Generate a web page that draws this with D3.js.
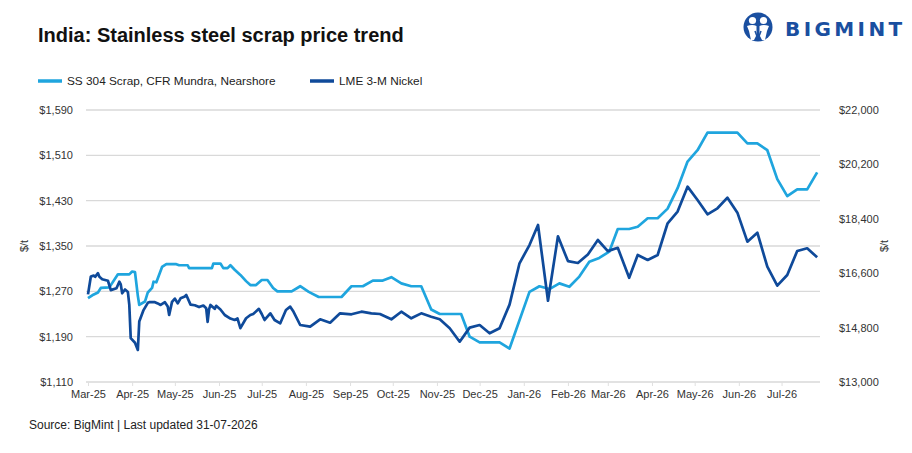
<!DOCTYPE html>
<html><head><meta charset="utf-8">
<script src="https://cdn.jsdelivr.net/npm/d3@7"></script>
<style>
body{margin:0;background:#fff;}
svg{display:block;font-family:"Liberation Sans",Arial,sans-serif;}
</style></head>
<body><svg id="c" width="912" height="453"></svg>
<script>
// ---- DATA ----
const ssDates = ["2025-03-01","2025-03-04","2025-03-08","2025-03-10","2025-03-16","2025-03-22","2025-03-30","2025-04-01","2025-04-03","2025-04-05","2025-04-06","2025-04-10","2025-04-12","2025-04-15","2025-04-16","2025-04-18","2025-04-22","2025-04-25","2025-05-02","2025-05-04","2025-05-10","2025-05-11","2025-05-27","2025-05-28","2025-06-02","2025-06-04","2025-06-07","2025-06-09","2025-06-12","2025-06-16","2025-06-20","2025-06-23","2025-06-27","2025-07-01","2025-07-05","2025-07-09","2025-07-12","2025-07-22","2025-07-28","2025-08-03","2025-08-10","2025-08-26","2025-09-02","2025-09-10","2025-09-17","2025-09-24","2025-09-30","2025-10-07","2025-10-14","2025-10-21","2025-10-28","2025-11-03","2025-11-18","2025-11-24","2025-12-01","2025-12-15","2025-12-22","2026-01-05","2026-01-12","2026-01-19","2026-01-26","2026-02-02","2026-02-09","2026-02-16","2026-02-23","2026-03-02","2026-03-08","2026-03-16","2026-03-22","2026-03-29","2026-04-05","2026-04-12","2026-04-19","2026-04-26","2026-05-03","2026-05-10","2026-05-31","2026-06-07","2026-06-14","2026-06-21","2026-06-28","2026-07-05","2026-07-12","2026-07-19","2026-07-26"];
const ssValues = [1258,1263,1268,1276,1277,1300,1300,1305,1304,1262,1246,1252,1268,1276,1287,1286,1313,1318,1318,1316,1316,1311,1311,1319,1319,1311,1311,1316,1308,1299,1288,1281,1281,1290,1290,1276,1270,1270,1279,1269,1260,1260,1279,1279,1289,1289,1295,1284,1279,1279,1238,1230,1230,1190,1180,1180,1169,1269,1279,1274,1284,1278,1296,1322,1329,1340,1380,1380,1384,1399,1399,1416,1452,1499,1519,1550,1550,1531,1531,1519,1468,1438,1450,1450,1480];

const niDates = ["2025-03-01","2025-03-03","2025-03-05","2025-03-06","2025-03-08","2025-03-09","2025-03-11","2025-03-15","2025-03-17","2025-03-21","2025-03-23","2025-03-24","2025-03-25","2025-03-27","2025-03-29","2025-03-30","2025-03-31","2025-04-03","2025-04-05","2025-04-06","2025-04-09","2025-04-12","2025-04-13","2025-04-17","2025-04-19","2025-04-21","2025-04-24","2025-04-26","2025-04-27","2025-04-29","2025-05-01","2025-05-03","2025-05-05","2025-05-08","2025-05-09","2025-05-12","2025-05-15","2025-05-18","2025-05-21","2025-05-23","2025-05-24","2025-05-25","2025-05-26","2025-05-29","2025-05-30","2025-06-02","2025-06-05","2025-06-09","2025-06-12","2025-06-14","2025-06-16","2025-06-20","2025-06-23","2025-06-25","2025-06-29","2025-07-01","2025-07-03","2025-07-07","2025-07-10","2025-07-14","2025-07-18","2025-07-21","2025-07-23","2025-07-28","2025-08-04","2025-08-11","2025-08-18","2025-08-25","2025-09-02","2025-09-09","2025-09-16","2025-09-22","2025-09-30","2025-10-07","2025-10-14","2025-10-21","2025-10-28","2025-11-03","2025-11-10","2025-11-17","2025-11-24","2025-12-01","2025-12-08","2025-12-15","2025-12-22","2025-12-29","2026-01-05","2026-01-11","2026-01-18","2026-01-25","2026-02-01","2026-02-08","2026-02-15","2026-02-22","2026-03-01","2026-03-08","2026-03-16","2026-03-22","2026-03-29","2026-04-05","2026-04-12","2026-04-19","2026-04-26","2026-05-03","2026-05-10","2026-05-17","2026-05-24","2026-05-31","2026-06-07","2026-06-14","2026-06-21","2026-06-28","2026-07-05","2026-07-12","2026-07-19","2026-07-26"];
const niValues = [15900,16490,16520,16480,16600,16480,16400,16350,16040,16100,16320,16230,15935,16060,15980,15550,14450,14300,14060,15000,15380,15620,15640,15640,15600,15550,15640,15500,15217,15650,15760,15600,15770,15830,15880,15560,15540,15480,15530,15440,14990,15400,15550,15420,15520,15400,15217,15100,15052,15100,14780,15110,15217,15250,15420,15250,15052,15272,15052,14942,15382,15492,15350,14886,14830,15074,14963,15272,15240,15326,15272,15250,15074,15326,15107,15272,15161,15074,14777,14334,14800,14886,14611,14777,15560,16928,17530,18195,15690,17820,17000,16939,17220,17699,17330,17440,16450,17203,17037,17203,18252,18640,19463,19022,18549,18748,19099,18603,17643,17941,16815,16187,16541,17335,17424,17126];

const leftTicks = [1110,1190,1270,1350,1430,1510,1590];
const rightTicks = [13000,14800,16600,18400,20200,22000];
const seriesNames = ["SS 304 Scrap, CFR Mundra, Nearshore","LME 3-M Nickel"];
const titleText = "India: Stainless steel scrap price trend";
const sourceText = "Source: BigMint | Last updated 31-07-2026";

// ---- CHART ----
const svg = d3.select("#c");
const parse = d3.timeParse("%Y-%m-%d");
const C_LIGHT = "#1fa5de", C_DARK = "#0f4a9a";
const m = {l:88, r:820, t:110, b:382};

const x = d3.scaleTime().domain([parse("2025-03-01"), parse("2026-07-28")]).range([m.l, m.r]);
const yL = d3.scaleLinear().domain([1110,1590]).range([m.b, m.t]);
const yR = d3.scaleLinear().domain([13000,22000]).range([m.b, m.t]);

// gridlines
svg.append("g").selectAll("line").data(leftTicks).join("line")
  .attr("x1", m.l-2).attr("x2", m.r).attr("y1", d=>yL(d)).attr("y2", d=>yL(d))
  .attr("stroke", "#d9d9d9").attr("stroke-width", 1.3);

// left axis labels
const gL = svg.append("g").attr("transform", `translate(${m.l-12},0)`)
  .call(d3.axisLeft(yL).tickValues(leftTicks).tickSize(0).tickFormat(d=>"$"+d3.format(",")(d)));
gL.select(".domain").remove();
gL.selectAll("text").attr("font-size", 11).attr("fill", "#333").attr("font-family", "Liberation Sans, Arial, sans-serif");

// right axis labels
const gR = svg.append("g").attr("transform", `translate(${m.r+16},0)`)
  .call(d3.axisRight(yR).tickValues(rightTicks).tickSize(0).tickFormat(d=>"$"+d3.format(",")(d)));
gR.select(".domain").remove();
gR.selectAll("text").attr("font-size", 11).attr("fill", "#333").attr("font-family", "Liberation Sans, Arial, sans-serif");

// x axis
const months = d3.timeMonth.range(parse("2025-03-01"), parse("2026-07-28"));
const gX = svg.append("g").attr("transform", `translate(0,${m.b})`)
  .call(d3.axisBottom(x).tickValues(months).tickSize(4).tickPadding(4).tickFormat(d3.timeFormat("%b-%y")));
gX.select(".domain").remove();
gX.selectAll(".tick line").attr("stroke", "#e0e0e0");
gX.selectAll("text").attr("font-size", 11).attr("fill", "#333").attr("font-family", "Liberation Sans, Arial, sans-serif");

// axis titles
svg.append("text").attr("transform", `translate(28,${(m.t+m.b)/2}) rotate(-90)`)
  .attr("text-anchor","middle").attr("font-size",11).attr("fill","#333").text("$/t");
svg.append("text").attr("transform", `translate(888,${(m.t+m.b)/2}) rotate(-90)`)
  .attr("text-anchor","middle").attr("font-size",11).attr("fill","#333").text("$/t");

// lines
const ssData = ssDates.map((d,i)=>({d:parse(d), v:ssValues[i]}));
const niData = niDates.map((d,i)=>({d:parse(d), v:niValues[i]}));
svg.append("path").datum(ssData)
  .attr("d", d3.line().x(p=>x(p.d)).y(p=>yL(p.v)))
  .attr("fill","none").attr("stroke",C_LIGHT).attr("stroke-width",2.7).attr("stroke-linejoin","round");
svg.append("path").datum(niData)
  .attr("d", d3.line().x(p=>x(p.d)).y(p=>yR(p.v)))
  .attr("fill","none").attr("stroke",C_DARK).attr("stroke-width",2.7).attr("stroke-linejoin","round");

// legend
const leg = [{x:38, c:C_LIGHT, t:seriesNames[0]}, {x:310, c:C_DARK, t:seriesNames[1]}];
const lg = svg.append("g").selectAll("g").data(leg).join("g").attr("transform", d=>`translate(${d.x},81)`);
lg.append("line").attr("x1",0).attr("x2",24).attr("y1",0).attr("y2",0).attr("stroke",d=>d.c).attr("stroke-width",3.5);
lg.append("text").attr("x",29).attr("y",4).attr("font-size",11.8).attr("fill","#222").text(d=>d.t);

// title
svg.append("text").attr("x",38).attr("y",42).attr("font-size",20).attr("font-weight","bold").attr("fill","#111").text(titleText);

// source
svg.append("text").attr("x",29).attr("y",429).attr("font-size",12).attr("fill","#222").text(sourceText);

// logo
const LOGO = "#1a4fa0";
const lgo = svg.append("g").attr("transform","translate(758,27)");
lgo.append("circle").attr("r",14.5).attr("fill",LOGO);
lgo.append("circle").attr("cx",-5.5).attr("cy",-6.5).attr("r",3.6).attr("fill","#fff");
lgo.append("circle").attr("cx",5.5).attr("cy",-6.5).attr("r",3.6).attr("fill","#fff");
lgo.append("path").attr("d","M-11,-1 Q-5.5,-3 -1.5,-1 L-1.5,8 L-4,13 L-7,13 L-9,4 Z").attr("fill","#fff");
lgo.append("path").attr("d","M11,-1 Q5.5,-3 1.5,-1 L1.5,8 L4,13 L7,13 L9,4 Z").attr("fill","#fff");
lgo.append("path").attr("d","M-3,4 L0,12 L3,4").attr("fill","none").attr("stroke",LOGO).attr("stroke-width",1.5);
svg.append("text").attr("x",785).attr("y",35.5).attr("font-size",20).attr("font-weight","bold")
  .attr("letter-spacing",3.4).attr("fill",LOGO).attr("font-family","DejaVu Sans, sans-serif").text("BIGMINT");
</script>
</body></html>
